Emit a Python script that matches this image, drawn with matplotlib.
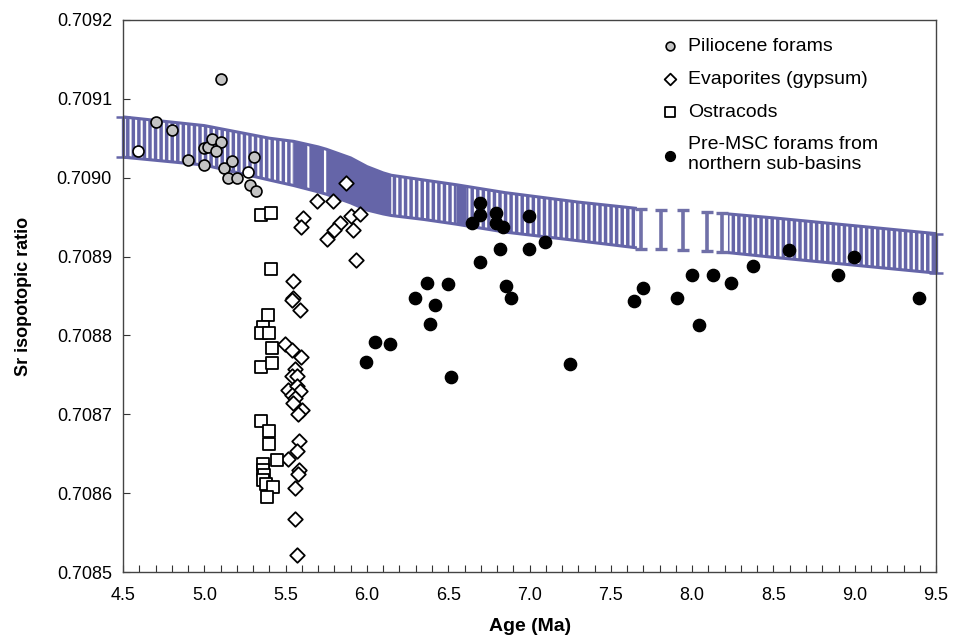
import matplotlib
matplotlib.use("Agg")
import matplotlib.pyplot as plt
import numpy as np
from matplotlib.ticker import MultipleLocator, FormatStrFormatter

plt.rcParams['font.family'] = ['Liberation Sans', 'DejaVu Sans']
plt.rcParams['hatch.linewidth'] = 1.5

# ---------------- data ----------------
# Seawater Sr curve envelope (upper / lower bound)
curve_age = [4.50, 5.00, 5.40, 5.55, 5.70, 5.75, 5.90, 6.00, 6.10, 6.15, 6.35, 6.55,
             6.61, 6.85, 7.30, 7.66, 8.22, 8.50, 9.00, 9.50]
curve_hi = [0.709077, 0.709066, 0.709050, 0.709046, 0.709039, 0.709036, 0.709025,
            0.709014, 0.709006, 0.709003, 0.708997, 0.708991, 0.708989, 0.708981,
            0.708969, 0.708961, 0.708954, 0.708949, 0.708939, 0.708929]
curve_lo = [0.709026, 0.709016, 0.708997, 0.708990, 0.708982, 0.708979, 0.708968,
            0.708959, 0.708954, 0.708952, 0.708947, 0.708941, 0.708939, 0.708931,
            0.708920, 0.708911, 0.708905, 0.708899, 0.708889, 0.708879]
# isolated error bars in the sparse part of the curve
sparse_age = [7.686, 7.809, 7.946, 8.093, 8.186]
sparse_hi = [0.708960, 0.708959, 0.708959, 0.708957, 0.708955]
sparse_lo = [0.708910, 0.708910, 0.708908, 0.708907, 0.708906]

plio_age = [5.10, 4.70, 4.80, 4.90, 5.00, 5.00, 5.02, 5.045, 5.10, 5.07, 5.12, 5.17,
            5.145, 5.20, 5.305, 5.28, 5.32]
plio_sr = [0.709125, 0.709070, 0.709060, 0.709023, 0.709016, 0.709037, 0.709039,
           0.709049, 0.709045, 0.709034, 0.709012, 0.709021, 0.709000, 0.709000,
           0.709026, 0.708991, 0.708983]
open_age = [4.594, 5.266]
open_sr = [0.709034, 0.709007]

evap_age = [5.874, 5.692, 5.794, 5.604, 5.593, 5.900, 5.956, 5.833, 5.798, 5.755,
            5.915, 5.935, 5.546, 5.546, 5.540, 5.591, 5.495, 5.536, 5.593, 5.557,
            5.536, 5.567, 5.515, 5.567, 5.587, 5.536, 5.557, 5.546, 5.598, 5.577,
            5.583, 5.567, 5.515, 5.583, 5.577, 5.557, 5.557, 5.567]
evap_sr = [0.708993, 0.708970, 0.708970, 0.708949, 0.708937, 0.708952, 0.708954,
           0.708942, 0.708933, 0.708922, 0.708933, 0.708895, 0.708869, 0.708848,
           0.708845, 0.708832, 0.708789, 0.708781, 0.708773, 0.708758, 0.708748,
           0.708748, 0.708731, 0.708736, 0.708729, 0.708724, 0.708720, 0.708714,
           0.708705, 0.708700, 0.708666, 0.708654, 0.708643, 0.708629, 0.708624,
           0.708607, 0.708567, 0.708522]

ostr_age = [5.346, 5.407, 5.407, 5.393, 5.362, 5.346, 5.398, 5.413, 5.346, 5.413,
            5.346, 5.397, 5.397, 5.444, 5.362, 5.362, 5.366, 5.362, 5.378, 5.423,
            5.386]
ostr_sr = [0.708953, 0.708955, 0.708884, 0.708826, 0.708811, 0.708803, 0.708803,
           0.708784, 0.708760, 0.708765, 0.708691, 0.708679, 0.708662, 0.708642,
           0.708637, 0.708629, 0.708623, 0.708617, 0.708612, 0.708608, 0.708595]

pre_age = [6.697, 6.697, 6.647, 6.794, 6.794, 6.836, 6.996, 6.816, 6.996, 7.096,
           6.697, 6.369, 6.498, 6.297, 6.416, 6.856, 6.887, 6.386, 6.048, 6.144,
           5.997, 6.518, 7.246, 7.645, 7.696, 7.905, 7.997, 8.044, 8.126, 8.239,
           8.376, 8.597, 8.896, 8.996, 9.396]
pre_sr = [0.708968, 0.708953, 0.708943, 0.708955, 0.708942, 0.708937, 0.708951,
          0.708910, 0.708910, 0.708918, 0.708893, 0.708867, 0.708865, 0.708848,
          0.708839, 0.708862, 0.708848, 0.708814, 0.708792, 0.708789, 0.708766,
          0.708747, 0.708764, 0.708844, 0.708860, 0.708847, 0.708877, 0.708813,
          0.708877, 0.708867, 0.708888, 0.708908, 0.708877, 0.708899, 0.708847]

labels = ["Piliocene forams", "Evaporites (gypsum)", "Ostracods",
          "Pre-MSC forams from\nnorthern sub-basins"]

# ---------------- styles ----------------
band_col = '#6565a8'
bar_col = '#7070a8'
# texture of the curve band by age range: (start, end, hatch)
band_texture = [(4.50, 5.55, '|||'), (5.55, 5.75, '|'), (5.75, 6.15, None),
                (6.15, 6.55, '|||'), (6.55, 6.61, None), (6.61, 7.30, '|||'),
                (7.30, 7.66, '|||'), (8.22, 9.50, '|||')]

fig = plt.figure(figsize=(9.56, 6.42), dpi=100)
ax = fig.add_axes([0.1287, 0.109, 0.8505, 0.860])

age = np.array(curve_age)
hi = np.array(curve_hi)
lo = np.array(curve_lo)
for a0, a1, h in band_texture:
    m = (age >= a0 - 1e-9) & (age <= a1 + 1e-9)
    ax.fill_between(age[m], lo[m], hi[m], facecolor=band_col, edgecolor='none',
                    linewidth=0, zorder=1)
    if h:
        ax.fill_between(age[m], lo[m], hi[m], facecolor='none', edgecolor='white',
                        hatch=h, linewidth=0, zorder=1.5)
for seg in [(4.50, 7.66), (8.22, 9.50)]:
    m = (age >= seg[0] - 1e-9) & (age <= seg[1] + 1e-9)
    ax.plot(age[m], hi[m], color=band_col, lw=2.2, zorder=2, solid_capstyle='butt')
    ax.plot(age[m], lo[m], color=band_col, lw=2.2, zorder=2, solid_capstyle='butt')

sa = np.array(sparse_age)
sh = np.array(sparse_hi)
sl = np.array(sparse_lo)
ax.errorbar(sa, (sh + sl) / 2, yerr=(sh - sl) / 2, fmt='none', ecolor=bar_col,
            elinewidth=2.6, capsize=4.5, capthick=2.4, zorder=2)
# end caps
ends = [0, -1]
ax.errorbar(age[ends], (hi[ends] + lo[ends]) / 2, yerr=(hi[ends] - lo[ends]) / 2,
            fmt='none', ecolor=band_col, elinewidth=2.4, capsize=5, capthick=1.8,
            zorder=2, clip_on=False)

ax.scatter(plio_age, plio_sr, s=62, marker='o', facecolor='#c4c4c4', edgecolor='black',
           linewidth=1.2, zorder=5, label=labels[0])
ax.scatter(open_age, open_sr, s=62, marker='o', facecolor='white', edgecolor='black',
           linewidth=1.2, zorder=5)
ax.scatter(evap_age, evap_sr, s=55, marker='D', facecolor='white', edgecolor='black',
           linewidth=1.3, zorder=4, label=labels[1])
ax.scatter(ostr_age, ostr_sr, s=72, marker='s', facecolor='white', edgecolor='black',
           linewidth=1.3, zorder=4, label=labels[2])
ax.scatter(pre_age, pre_sr, s=78, marker='o', facecolor='black', edgecolor='black',
           linewidth=1.0, zorder=5, label=labels[3])

ax.set_xlim(4.5, 9.5)
ax.set_ylim(0.7085, 0.7092)
ax.xaxis.set_major_locator(MultipleLocator(0.5))
ax.xaxis.set_minor_locator(MultipleLocator(0.1))
ax.xaxis.set_major_formatter(FormatStrFormatter('%.1f'))
ax.yaxis.set_major_locator(MultipleLocator(0.0001))
ax.yaxis.set_major_formatter(FormatStrFormatter('%.4f'))
ax.tick_params(axis='x', which='both', direction='in', length=5, width=0.8,
               labelsize=13, pad=11, color='#333333')
ax.tick_params(axis='y', which='major', direction='in', length=5, width=0.8,
               labelsize=13, pad=8, color='#333333')
for s in ax.spines.values():
    s.set_color('#444444')
    s.set_linewidth(1.0)

ax.set_xlabel('Age (Ma)', fontsize=14, fontweight='bold', labelpad=10)
ax.set_ylabel('Sr isopotopic ratio', fontsize=13, fontweight='bold', labelpad=18)

leg = ax.legend(loc='upper left', bbox_to_anchor=(0.651, 0.982), frameon=False,
                fontsize=14, markerscale=0.8, handletextpad=0.45, labelspacing=0.78,
                handlelength=1.0, borderaxespad=0)
for t in leg.get_texts():
    t.set_linespacing(1.2)

fig.savefig('out.png', dpi=100)
